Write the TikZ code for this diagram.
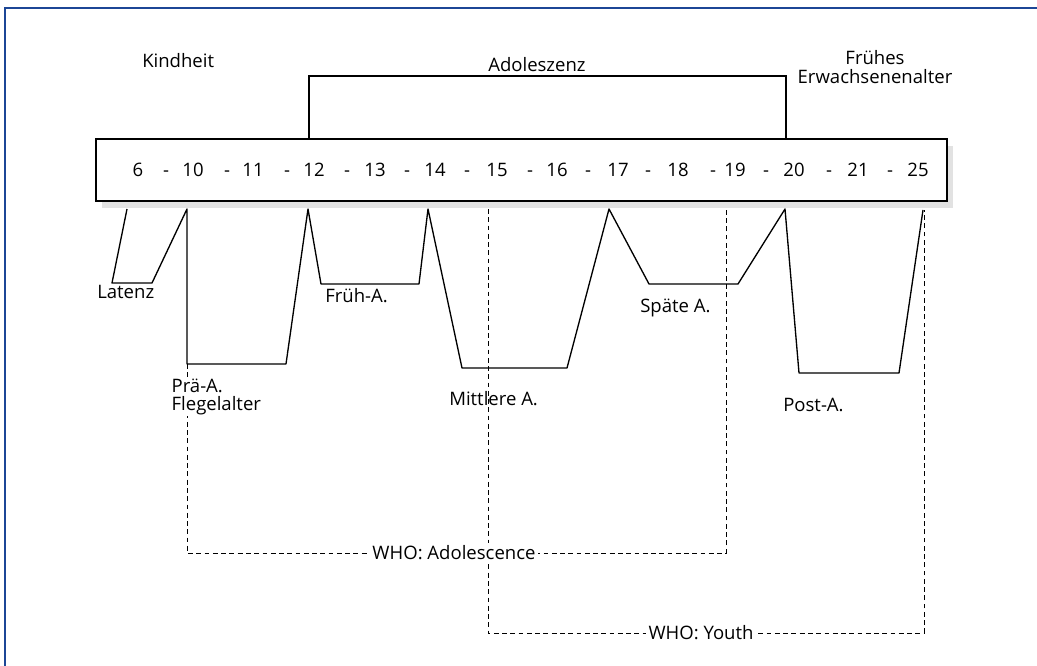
\documentclass[tikz,border=0pt]{standalone}
\usepackage{fontspec}
\setmainfont{Open Sans}
\usepackage{tikz}
\usetikzlibrary{calc}
\definecolor{frameblue}{RGB}{28,70,150}
\definecolor{shadowgray}{RGB}{226,226,226}
\tikzset{
	lbl/.style={inner sep=0pt,font=\fontsize{13.9}{13.9}\selectfont},
	wholine/.style={line width=0.75pt,dash pattern=on 3.6pt off 2.6pt},
	phase/.style={line width=1pt,line join=round},
	bracket/.style={line width=1pt}
}

\begin{document}
\begin{tikzpicture}[x=0.75pt,y=-0.75pt]
	\useasboundingbox (0,0) rectangle (1037,666);

	\draw[frameblue,line width=1.6pt] (5.3,666) -- (5.3,8.3) -- (1037,8.3); %frame

	\fill[shadowgray] (102,146) rectangle (953,208); %shadow
	\draw[line width=1.1pt,fill=white] (96,139) rectangle (947,201); %age bar

	% ages and separators
	\foreach \x/\a [count=\i] in {138/6,193/10,253/11,314/12,375/13,435/14,497/15,557/16,618/17,678/18,735/19,794/20,858/21,918/25}
		\node[lbl,anchor=base] (age\i) at (\x,177) {\a};
	\foreach \x [count=\i] in {166,227,287,347,407,467,530,588,648,713,766,829,890}
		\node[lbl,anchor=base] (sep\i) at (\x,177) {-};

	% Adoleszenz bracket
	\coordinate (adoL) at (309,139);
	\coordinate (adoR) at (786,139);
	\draw[bracket] (adoL) -- ($(adoL)+(0,-63)$) -| (adoR);

	% WHO ranges
	\coordinate (adoStart) at (187,364);
	\coordinate (adoEnd) at (726,209);
	\coordinate (youStart) at (488,209);
	\coordinate (youEnd) at (924,210);
	\draw[wholine] (adoStart) -- (adoStart |- 0,553) -- (adoEnd |- 0,553) -- (adoEnd);
	\draw[wholine] (youStart) -- (youStart |- 0,633) -- (youEnd |- 0,633) -- (youEnd);

	% labels
	\node[lbl,anchor=base west] (kind) at (142,68) {Kindheit};
	\node[lbl,anchor=base west] (adol) at (488,72) {Adoleszenz};
	\node[lbl,anchor=base,align=center,font=\fontsize{13.9}{14.5}\selectfont] (erw) at (875,84) {Frühes\\Erwachsenenalter};
	\node[lbl,anchor=base west] (lat) at (97,298) {Latenz};
	\node[lbl,anchor=base west] (frueh) at (325,302) {Früh-A.};
	\node[lbl,anchor=base west,align=left,fill=white,inner sep=1pt,font=\fontsize{13.9}{13.5}\selectfont] (prae) at (170,410) {Prä-A.\\Flegelalter};
	\node[lbl,anchor=base west] (mitt) at (449,405) {Mittlere A.};
	\node[lbl,anchor=base west] (spaet) at (640,312) {Späte A.};
	\node[lbl,anchor=base west] (post) at (783,411) {Post-A.};
	\node[lbl,fill=white,inner sep=2pt] (whoAdo) at (454,553) {WHO: Adolescence};
	\node[lbl,fill=white,inner sep=2pt] (whoYou) at (701,633) {WHO: Youth};

	% phases
	\draw[phase] (127,209) -- (112,283) -- (152,283) -- (187,209) -- (187,364) -- (286,364)
		-- (308,209) -- (321,284) -- (419,284) -- (428,209) -- (462,368) -- (567,368)
		-- (609,209) -- (649,284) -- (738,284) -- (785,209) -- (799,373) -- (899,373) -- (923,210);
\end{tikzpicture}
\end{document}
